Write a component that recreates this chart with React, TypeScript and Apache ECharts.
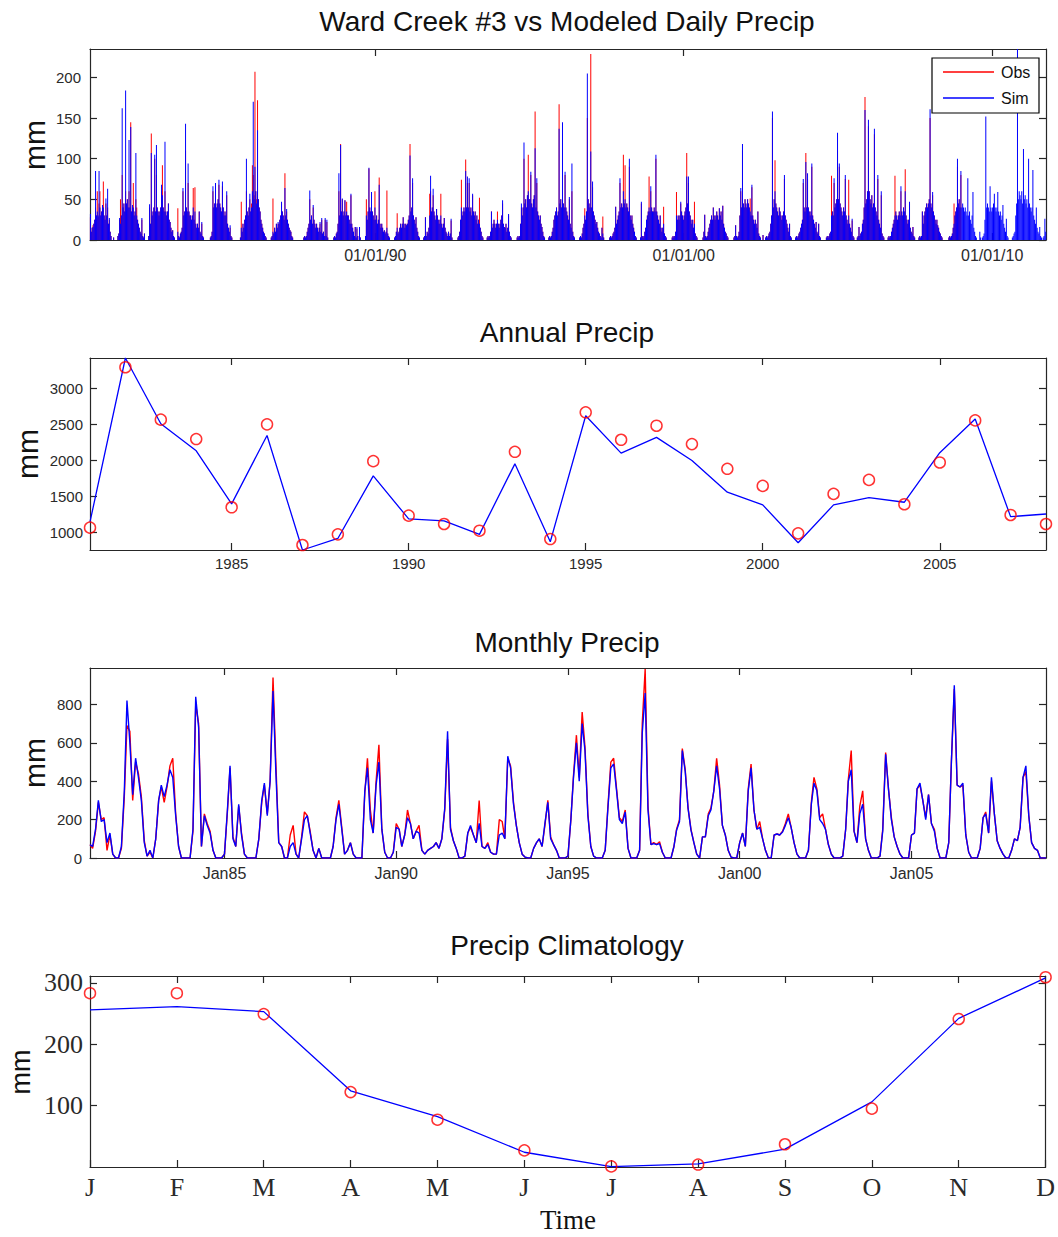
import React, { useEffect, useRef } from "react";
import * as echarts from "echarts";

const SANS = "'Liberation Sans', Arial, sans-serif";
const SERIF = "'Liberation Serif', 'Times New Roman', serif";
const AXIS_COLOR = "#262626";
const LABEL_COLOR = "#2a2a2a";
const RED = "#ff0000";
const BLUE = "#0000ff";

// ---------------- Daily precip (10-day bins, 36 per calendar year) ----------------
const dailyFirstYear = 1980;
const dailySim: number[][] = [
  [0,0,0,0,0,0,0,0,0,0,0,0,0,0,0,0,0,0,0,0,0,0,0,0,0,0,0,32,10,15,16,20,25,85,30,35],
  [30,85,40,30,35,43,40,30,25,51,30,63,20,27,10,5,0,0,3,0,0,0,0,5,8,27,20,30,162,40,45,35,184,45,50,40],
  [123,40,139,35,43,40,30,35,107,30,25,20,15,10,8,27,5,3,8,0,0,0,0,5,44,20,107,30,35,40,105,35,117,40,35,30],
  [35,40,68,55,40,35,121,35,30,35,45,25,22,15,10,12,5,3,0,0,0,10,5,3,8,10,15,64,30,35,143,40,35,94,35,30],
  [30,25,30,40,25,35,20,15,20,15,35,10,8,22,5,3,0,0,0,0,0,0,0,3,5,10,66,40,45,70,40,45,50,74,45,40],
  [35,72,40,30,35,30,60,20,15,10,18,5,3,0,0,0,0,0,0,0,0,0,3,15,10,20,15,25,30,100,35,30,40,57,35,40],
  [60,170,50,90,60,45,135,50,40,35,25,20,15,10,8,5,3,0,0,0,0,0,3,5,10,8,15,10,20,15,22,20,25,30,47,35],
  [30,25,64,30,38,25,20,15,12,10,5,3,0,0,0,0,0,0,0,0,0,0,0,0,3,5,3,5,10,15,20,61,25,30,20,43],
  [25,20,15,20,15,10,15,22,10,27,8,10,5,27,5,25,3,0,0,0,0,0,0,3,5,3,8,10,20,82,30,117,35,51,30,35],
  [49,30,35,30,30,25,20,57,20,15,10,5,16,3,16,5,0,16,3,0,0,0,0,0,5,30,25,35,89,40,35,59,35,30,25,40],
  [25,30,20,25,68,20,15,20,15,10,12,8,10,15,8,5,3,0,0,0,0,0,3,5,10,15,8,10,15,20,15,20,28,20,15,20],
  [18,20,25,30,104,35,40,76,30,25,20,28,15,10,5,3,0,0,0,0,3,5,28,5,10,8,15,30,79,35,40,63,35,30,25,38],
  [30,25,20,25,30,20,15,20,27,15,10,8,5,10,5,8,26,3,0,0,0,0,0,0,3,5,10,25,40,30,35,40,35,85,40,78],
  [40,76,35,40,30,57,35,30,35,25,30,20,25,20,15,10,5,3,0,0,0,0,3,5,3,5,10,35,15,20,25,20,15,20,25,20],
  [15,20,25,30,49,20,16,15,20,10,15,32,10,5,3,0,0,0,0,0,0,3,5,3,5,20,45,30,40,120,45,50,40,55,60,50],
  [50,84,45,40,50,55,113,40,76,35,30,25,30,20,16,10,5,3,0,0,0,0,3,5,3,5,10,15,25,30,35,40,30,35,137,45],
  [50,40,145,45,40,84,40,35,30,25,53,20,15,94,10,5,3,0,0,0,0,0,3,5,3,8,15,20,30,25,35,205,50,45,40,109],
  [40,72,35,30,25,20,22,15,10,8,5,3,15,8,3,0,0,0,0,0,0,3,5,3,5,8,10,15,41,20,25,30,35,76,40,45],
  [40,60,45,50,40,45,40,35,100,30,25,30,20,15,10,5,3,0,0,0,0,3,47,5,3,5,10,15,25,30,35,40,35,66,40,35],
  [35,40,35,105,35,30,25,20,30,15,10,15,20,8,5,3,0,0,0,0,0,0,3,5,3,5,10,30,25,30,25,30,47,35,30,25],
  [30,35,40,78,45,78,35,30,25,20,25,15,20,8,5,3,0,0,0,0,0,0,3,10,31,5,3,5,10,15,20,25,30,25,40,30],
  [25,30,35,30,25,39,30,35,25,42,20,15,10,8,5,3,0,0,0,0,0,0,3,5,18,5,3,5,10,30,64,40,118,45,40,50],
  [45,40,50,45,40,35,30,68,30,25,20,25,20,15,35,8,5,3,0,0,6,0,0,3,5,3,5,8,10,20,30,158,40,50,60,45],
  [40,35,30,40,35,30,25,30,35,80,30,25,20,15,10,20,5,3,0,0,0,0,3,5,3,5,8,10,15,20,25,75,40,35,96,40],
  [82,40,35,30,35,94,30,25,20,15,22,10,8,20,5,3,0,0,0,0,0,0,3,5,3,5,8,10,30,35,30,76,40,45,50,132],
  [50,94,45,40,35,30,40,35,80,30,25,20,30,20,15,10,26,5,3,0,0,0,3,5,16,5,8,10,20,25,40,160,45,50,60,148],
  [60,50,45,55,40,45,137,40,35,30,80,25,20,15,60,8,5,3,0,0,0,0,3,5,3,5,10,15,20,25,30,35,30,25,30,35],
  [30,66,35,30,40,35,60,30,25,20,25,47,15,10,8,16,5,3,0,0,0,0,3,5,3,5,35,20,30,35,40,45,40,45,50,161],
  [45,40,59,35,30,25,20,25,18,15,10,8,5,3,0,0,0,0,0,0,0,3,5,3,5,8,15,20,30,35,40,100,45,50,40,85],
  [40,45,40,35,40,35,30,76,30,35,25,20,30,59,15,10,5,3,0,0,0,10,3,0,3,5,8,25,152,40,45,40,35,66,40,35],
  [40,45,57,40,35,40,59,35,30,35,25,30,43,20,15,10,26,5,3,0,0,0,0,3,5,8,10,30,45,235,50,60,55,50,60,45],
  [112,50,55,45,50,40,100,45,40,35,40,86,30,25,20,40,15,10,8,16,5,3,0,3,5,26,10,0,0,0,0,0,0,0,0,0],
];
const dailyObs: number[][] = [
  [0,0,0,0,0,0,0,0,0,0,0,0,0,0,0,0,0,0,0,0,0,0,0,0,0,0,0,28,10,15,18,20,25,40,30,60],
  [28,45,60,30,35,40,72,30,25,45,30,40,20,25,10,5,0,0,3,0,0,0,0,5,8,25,50,30,80,40,45,35,60,45,50,40],
  [60,40,145,35,40,70,30,35,50,40,25,20,15,10,8,25,5,3,8,0,0,0,0,5,40,20,131,30,35,40,100,35,80,40,35,30],
  [35,40,60,92,40,35,60,35,30,35,45,25,22,15,10,12,5,3,0,0,0,39,5,3,8,10,15,60,30,35,110,40,35,70,35,30],
  [30,25,30,64,25,65,20,15,20,15,35,10,8,20,5,3,0,0,0,0,0,0,0,3,5,10,60,40,45,65,40,45,50,68,45,40],
  [35,66,40,30,35,30,55,20,15,10,15,5,3,0,0,0,0,0,0,0,0,0,3,47,10,20,15,25,30,60,35,30,40,50,35,45],
  [92,80,55,207,60,50,172,50,40,35,25,20,15,10,8,5,3,0,0,0,0,0,3,5,51,8,15,10,20,15,20,20,25,30,45,35],
  [30,25,82,30,35,25,20,15,12,10,5,3,0,0,0,0,0,0,0,0,0,0,0,0,3,5,3,5,10,15,20,50,25,30,20,40],
  [25,20,15,20,15,10,15,20,10,25,8,10,5,25,5,22,3,0,0,0,0,0,0,3,5,3,8,10,20,60,30,118,35,50,30,35],
  [49,30,47,30,30,25,20,55,20,15,10,5,16,3,14,5,0,16,3,0,0,0,0,0,5,50,25,35,88,40,35,55,35,30,25,60],
  [25,30,20,25,77,20,15,20,15,10,12,8,10,61,8,5,3,0,0,0,0,0,3,5,10,33,8,10,15,20,15,20,28,20,15,20],
  [18,20,25,30,118,35,40,70,30,25,20,28,15,10,5,3,0,0,0,0,3,5,28,5,10,8,15,57,60,35,40,55,35,30,25,38],
  [30,25,20,25,57,20,15,20,27,15,10,8,5,10,5,8,24,3,0,0,0,0,0,0,3,5,10,25,74,30,35,40,35,99,40,70],
  [40,70,35,40,30,55,35,30,35,25,30,20,25,52,15,10,5,3,0,0,0,0,3,5,3,5,10,35,15,20,25,20,15,20,35,20],
  [15,20,25,30,45,20,16,15,20,10,15,30,10,5,3,0,0,0,0,0,0,3,5,3,5,20,40,30,40,100,45,50,40,55,105,50],
  [50,80,45,40,50,55,158,40,70,35,30,25,30,20,16,10,5,3,0,0,0,0,3,5,3,5,10,15,25,30,35,40,30,35,167,45],
  [50,40,130,45,40,80,40,35,30,25,50,20,15,60,10,5,3,0,0,0,0,0,3,5,3,8,15,20,39,25,35,150,50,45,40,229],
  [40,65,35,30,25,20,22,15,10,8,5,3,15,29,3,0,0,0,0,0,0,3,5,3,5,8,10,15,41,20,25,30,35,70,40,45],
  [40,105,45,92,40,45,40,35,90,30,25,30,20,15,10,5,3,0,0,0,0,3,45,5,3,5,10,15,25,30,35,78,35,60,40,35],
  [35,40,35,100,35,30,25,20,30,15,10,15,41,8,5,3,0,0,0,0,0,0,3,5,3,5,10,59,25,30,25,30,45,35,30,25],
  [30,35,40,107,45,70,35,30,25,20,25,15,47,8,5,3,0,0,0,0,0,0,3,10,31,5,3,5,10,15,20,25,30,25,40,30],
  [25,30,35,30,25,39,30,35,25,42,20,15,10,8,5,3,0,0,0,0,0,0,3,5,18,5,3,5,10,30,60,40,110,45,40,50],
  [45,40,50,45,40,51,30,65,30,25,20,25,20,15,35,8,5,3,0,0,6,0,0,3,5,3,5,8,10,20,30,150,40,50,98,45],
  [40,35,30,40,35,30,25,30,35,75,30,25,20,15,10,20,5,3,0,0,0,0,3,5,3,5,8,10,15,20,25,70,40,35,107,40],
  [75,40,35,30,35,90,30,25,20,15,22,10,8,20,5,3,0,0,0,0,0,0,3,5,3,5,8,10,79,35,30,70,40,45,50,110],
  [50,90,45,40,35,30,40,35,75,30,25,20,74,20,15,10,24,5,3,0,0,0,3,5,16,5,8,10,20,25,40,176,45,50,60,140],
  [60,50,45,55,40,45,130,40,35,30,75,25,20,15,55,8,5,3,0,0,0,0,3,5,3,5,10,15,20,25,79,35,30,25,30,35],
  [30,60,35,30,40,35,87,30,25,20,25,45,15,10,8,16,5,3,0,0,0,0,3,5,3,5,35,20,30,35,40,45,40,45,50,150],
  [45,40,55,35,30,25,20,25,18,15,10,8,5,3,0,0,0,0,0,0,0,3,5,3,5,8,15,45,30,35,40,90,45,50,40,80],
];
const dailyStart = Date.UTC(1980, 9, 1);
const dailyEnd = Date.UTC(2011, 8, 30);
const dailyTickYears = [1990, 2000, 2010];
const dailyYTicks = [0, 50, 100, 150, 200];
const dailyYMax = 235;

// ---------------- Annual precip ----------------
const annualYears = [1981,1982,1983,1984,1985,1986,1987,1988,1989,1990,1991,1992,1993,1994,1995,1996,1997,1998,1999,2000,2001,2002,2003,2004,2005,2006,2007,2008];
const annualObs = [1070,3297,2569,2300,1353,2504,829,977,1993,1237,1121,1028,2123,912,2671,2290,2485,2230,1887,1650,991,1539,1733,1395,1975,2559,1246,1121];
const annualSim = [1150,3425,2513,2137,1400,2350,760,920,1789,1191,1163,977,1956,875,2624,2105,2323,2003,1562,1386,861,1386,1488,1423,2110,2578,1223,1260];
const annualXTicks = [1985, 1990, 1995, 2000, 2005];
const annualYTicks = [1000, 1500, 2000, 2500, 3000];
const annualYMin = 760;
const annualYMax = 3425;

// ---------------- Monthly precip ----------------
const monthlyFirstYear = 1981;
const monthlySim: (number | null)[][] = [
  [null,70,60,150,300,190,200,80,130,20,0,0],
  [60,350,820,600,330,520,420,300,80,10,40,0],
  [100,300,380,320,380,460,420,220,60,0,0,0],
  [0,150,840,680,60,220,170,130,40,0,0,0],
  [20,250,480,100,60,280,120,20,0,0,0,0],
  [100,300,390,220,400,870,450,80,60,0,0,60],
  [80,20,0,100,200,220,130,40,0,50,0,0],
  [0,0,60,200,280,150,20,40,80,20,0,0],
  [0,350,470,200,130,380,500,150,30,0,0,30],
  [160,150,60,120,210,180,100,140,130,40,20,40],
  [50,60,80,50,100,260,660,150,90,50,0,0],
  [10,130,170,120,80,180,60,50,70,30,20,20],
  [120,130,100,530,470,280,170,80,20,5,0,0],
  [50,80,100,60,180,290,100,70,40,0,0,0],
  [10,200,420,600,400,700,560,220,60,10,0,0],
  [0,40,260,470,490,350,200,180,240,50,0,0],
  [0,40,650,860,250,70,75,70,75,30,0,0],
  [0,60,145,190,560,450,260,145,80,20,0,110],
  [110,220,250,350,480,360,170,120,40,5,0,0],
  [80,130,60,350,470,250,150,160,100,40,0,0],
  [120,125,120,135,170,210,160,80,20,0,0,0],
  [40,280,390,350,200,180,150,70,20,0,0,0],
  [10,150,400,460,140,80,230,280,100,40,0,0],
  [0,10,140,540,360,200,110,60,20,0,0,0],
  [120,130,360,390,300,200,330,180,140,50,0,0],
  [0,80,500,900,380,370,390,120,30,0,0,0],
  [50,210,230,130,420,230,90,50,20,0,0,40],
  [100,90,160,420,480,220,80,50,40,0,0,0],
];
const monthlyObs: (number | null)[][] = [
  [null,70,50,140,290,200,210,40,120,20,0,0],
  [50,320,690,660,300,500,440,320,90,10,30,0],
  [100,300,370,290,370,480,520,230,60,0,0,0],
  [0,140,800,700,60,230,180,140,40,0,0,0],
  [20,240,470,110,60,270,130,20,0,0,0,0],
  [100,290,380,230,400,940,500,80,60,0,0,120],
  [170,20,0,110,240,220,140,40,0,50,0,0],
  [0,0,60,210,300,160,20,40,80,20,0,0],
  [0,340,520,250,130,400,590,150,30,0,0,30],
  [180,150,60,120,250,180,100,140,170,40,20,40],
  [50,60,80,50,100,250,620,160,90,50,0,0],
  [10,130,160,120,80,300,60,50,80,30,20,20],
  [200,190,100,520,480,290,170,80,20,5,0,0],
  [50,80,100,60,170,300,110,70,40,0,0,0],
  [10,200,430,640,420,760,580,230,60,10,0,0],
  [0,40,270,500,520,360,210,190,250,50,0,0],
  [0,40,700,985,270,70,80,70,85,30,0,0],
  [0,60,150,200,570,460,260,150,80,20,0,110],
  [110,230,260,350,520,380,170,120,40,5,0,0],
  [80,130,60,360,490,250,150,190,100,40,0,0],
  [120,125,120,140,180,230,160,80,20,0,0,0],
  [40,290,420,360,210,230,150,70,20,0,0,0],
  [10,150,410,560,140,80,270,350,100,40,0,0],
  [0,10,150,550,360,210,110,60,20,0,0,0],
  [120,130,360,380,300,210,330,180,150,50,0,0],
  [0,80,500,880,380,370,380,120,30,0,0,0],
  [50,210,240,130,400,230,90,50,20,0,0,40],
  [100,90,160,420,450,220,80,50,40,0,0,0],
];
const monthlyStart = Date.UTC(1981, 1, 1);
const monthlyEnd = Date.UTC(2008, 11, 1);
const monthlyTickYears = [1985, 1990, 1995, 2000, 2005];
const monthlyYTicks = [0, 200, 400, 600, 800];
const monthlyYMax = 990;

// ---------------- Climatology ----------------
const climMonths = ["J","F","M","A","M","J","J","A","S","O","N","D"];
const climObs = [283,283,249,122,77,27,1,4,37,95,241,309];
const climSim = [256,261,253,124,82,24,0.5,5,29,106,242,308];
const climYTicks = [100, 200, 300];
const climYMax = 311;

// ---------------- helpers ----------------
const DAY = 86400000;
const BIN = (365.25 / 36) * DAY;

function dailyData(rows: number[][]) {
  const out: [number, number][] = [];
  rows.forEach((row, i) => {
    const y = dailyFirstYear + i;
    row.forEach((v, k) => {
      const t = Date.UTC(y, 0, 1) + (k + 0.5) * BIN;
      if (t >= dailyStart && t <= dailyEnd && v > 0) out.push([t, v]);
    });
  });
  return out;
}

function monthlyData(rows: (number | null)[][]) {
  const out: [number, number][] = [];
  rows.forEach((row, i) => {
    row.forEach((v, j) => {
      if (v !== null) out.push([Date.UTC(monthlyFirstYear + i, j, 1), v]);
    });
  });
  return out;
}

const grids = [
  { left: 90, width: 956, top: 49, height: 191 },
  { left: 90, width: 956, top: 358, height: 192 },
  { left: 90, width: 956, top: 668, height: 190 },
  { left: 90, width: 956, top: 976, height: 191 },
];

function axis(o: any) {
  return {
    gridIndex: o.grid,
    type: "value",
    min: o.min,
    max: o.max,
    position: o.position,
    scale: true,
    axisLine: { show: true, onZero: false, lineStyle: { color: AXIS_COLOR, width: 1.2 } },
    axisTick: {
      show: true,
      inside: true,
      length: 7,
      customValues: o.ticks,
      lineStyle: { color: AXIS_COLOR, width: 1.2 },
    },
    axisLabel: o.label
      ? {
          show: true,
          customValues: o.ticks,
          formatter: o.fmt,
          fontSize: o.fontSize,
          fontFamily: o.font || SANS,
          color: LABEL_COLOR,
          margin: o.margin,
        }
      : { show: false },
    splitLine: { show: false },
    minorTick: { show: false },
  };
}

function yy(t: number) {
  const y = new Date(t).getUTCFullYear();
  return String(y).slice(2);
}

const dailyTicks = dailyTickYears.map((y) => Date.UTC(y, 0, 1));
const monthlyTicks = monthlyTickYears.map((y) => Date.UTC(y, 0, 1));
const climX = climMonths.map((_, i) => i + 1);

function buildOption() {
  const xAxis = [
    axis({ grid: 0, min: dailyStart, max: dailyEnd, position: "bottom", ticks: dailyTicks, label: true, fmt: (v: number) => "01/01/" + yy(v), fontSize: 16, margin: 7 }),
    axis({ grid: 0, min: dailyStart, max: dailyEnd, position: "top", ticks: dailyTicks, label: false }),
    axis({ grid: 1, min: annualYears[0], max: annualYears[annualYears.length - 1], position: "bottom", ticks: annualXTicks, label: true, fmt: (v: number) => String(v), fontSize: 15, margin: 6 }),
    axis({ grid: 1, min: annualYears[0], max: annualYears[annualYears.length - 1], position: "top", ticks: annualXTicks, label: false }),
    axis({ grid: 2, min: monthlyStart, max: monthlyEnd, position: "bottom", ticks: monthlyTicks, label: true, fmt: (v: number) => "Jan" + yy(v), fontSize: 16, margin: 7 }),
    axis({ grid: 2, min: monthlyStart, max: monthlyEnd, position: "top", ticks: monthlyTicks, label: false }),
    axis({ grid: 3, min: 1, max: 12, position: "bottom", ticks: climX, label: true, fmt: (v: number) => climMonths[Math.round(v) - 1], fontSize: 26, font: SERIF, margin: 7 }),
    axis({ grid: 3, min: 1, max: 12, position: "top", ticks: climX, label: false }),
  ];
  const yAxis = [
    axis({ grid: 0, min: 0, max: dailyYMax, position: "left", ticks: dailyYTicks, label: true, fmt: (v: number) => String(v), fontSize: 15, margin: 9 }),
    axis({ grid: 0, min: 0, max: dailyYMax, position: "right", ticks: dailyYTicks, label: false }),
    axis({ grid: 1, min: annualYMin, max: annualYMax, position: "left", ticks: annualYTicks, label: true, fmt: (v: number) => String(v), fontSize: 15, margin: 7 }),
    axis({ grid: 1, min: annualYMin, max: annualYMax, position: "right", ticks: annualYTicks, label: false }),
    axis({ grid: 2, min: 0, max: monthlyYMax, position: "left", ticks: monthlyYTicks, label: true, fmt: (v: number) => String(v), fontSize: 15, margin: 8 }),
    axis({ grid: 2, min: 0, max: monthlyYMax, position: "right", ticks: monthlyYTicks, label: false }),
    axis({ grid: 3, min: 0, max: climYMax, position: "left", ticks: climYTicks, label: true, fmt: (v: number) => String(v), fontSize: 26, font: SERIF, margin: 7 }),
    axis({ grid: 3, min: 0, max: climYMax, position: "right", ticks: climYTicks, label: false }),
  ];

  const circle = (size: number) => ({
    type: "scatter",
    symbol: "circle",
    symbolSize: size,
    itemStyle: { color: "rgba(0,0,0,0)", borderColor: RED, borderWidth: 1.5 },
    silent: true,
    z: 3,
  });

  const series: any[] = [
    { type: "bar", xAxisIndex: 0, yAxisIndex: 0, data: dailyData(dailyObs), barWidth: 1, barGap: "-100%", itemStyle: { color: RED }, silent: true, z: 2 },
    { type: "bar", xAxisIndex: 0, yAxisIndex: 0, data: dailyData(dailySim), barWidth: 1, barGap: "-100%", itemStyle: { color: BLUE }, silent: true, z: 3 },
    { type: "line", xAxisIndex: 2, yAxisIndex: 2, data: annualYears.map((y, i) => [y, annualSim[i]]), showSymbol: false, symbol: "none", lineStyle: { color: BLUE, width: 1.3 }, silent: true, z: 2 },
    { ...circle(11), xAxisIndex: 2, yAxisIndex: 2, data: annualYears.map((y, i) => [y, annualObs[i]]) },
    { type: "line", xAxisIndex: 4, yAxisIndex: 4, data: monthlyData(monthlyObs), showSymbol: false, symbol: "none", lineStyle: { color: RED, width: 1.4 }, silent: true, z: 2 },
    { type: "line", xAxisIndex: 4, yAxisIndex: 4, data: monthlyData(monthlySim), showSymbol: false, symbol: "none", lineStyle: { color: BLUE, width: 1.4 }, silent: true, z: 3 },
    { type: "line", xAxisIndex: 6, yAxisIndex: 6, data: climX.map((m, i) => [m, climSim[i]]), showSymbol: false, symbol: "none", lineStyle: { color: BLUE, width: 1.3 }, silent: true, z: 2 },
    { ...circle(11), xAxisIndex: 6, yAxisIndex: 6, data: climX.map((m, i) => [m, climObs[i]]) },
  ];

  const txt = (text: string, x: number, y: number, size: number, font: string, extra: any = {}) => ({
    type: "text",
    x,
    y,
    z: 50,
    silent: true,
    ...extra,
    style: {
      text,
      fontSize: size,
      fontFamily: font,
      fill: "#111",
      align: "center",
      verticalAlign: "middle",
      textAlign: "center",
      textVerticalAlign: "middle",
    },
  });

  const titleX = 567;
  const graphic = [
    txt("Ward Creek #3 vs Modeled Daily Precip", titleX, 21, 28, SANS),
    txt("Annual Precip", titleX, 332, 28, SANS),
    txt("Monthly Precip", titleX, 642, 28, SANS),
    txt("Precip Climatology", titleX, 945, 28, SANS),
    txt("mm", 34, 145, 30, SANS, { rotation: Math.PI / 2 }),
    txt("mm", 27, 454, 30, SANS, { rotation: Math.PI / 2 }),
    txt("mm", 34, 763, 30, SANS, { rotation: Math.PI / 2 }),
    txt("mm", 21, 1072, 27, SANS, { rotation: Math.PI / 2 }),
    txt("Time", 568, 1220, 27, SERIF),
    {
      type: "rect",
      z: 60,
      silent: true,
      shape: { x: 932, y: 58, width: 107, height: 55 },
      style: { fill: "#ffffff", stroke: "#000000", lineWidth: 1.2 },
    },
    { type: "line", z: 61, silent: true, shape: { x1: 943, y1: 72, x2: 994, y2: 72 }, style: { stroke: RED, lineWidth: 1.3 } },
    { type: "line", z: 61, silent: true, shape: { x1: 943, y1: 98, x2: 994, y2: 98 }, style: { stroke: BLUE, lineWidth: 1.3 } },
    {
      type: "text", z: 61, silent: true, x: 1001, y: 72,
      style: { text: "Obs", fontSize: 16, fontFamily: SANS, fill: "#111", align: "left", verticalAlign: "middle", textAlign: "left", textVerticalAlign: "middle" },
    },
    {
      type: "text", z: 61, silent: true, x: 1001, y: 98,
      style: { text: "Sim", fontSize: 16, fontFamily: SANS, fill: "#111", align: "left", verticalAlign: "middle", textAlign: "left", textVerticalAlign: "middle" },
    },
  ];

  return {
    animation: false,
    backgroundColor: "#ffffff",
    grid: grids.map((g) => ({ ...g, containLabel: false })),
    xAxis,
    yAxis,
    series,
    graphic: { elements: graphic },
  };
}

export default function App() {
  const ref = useRef<HTMLDivElement>(null);
  useEffect(() => {
    if (!ref.current) return;
    const chart = echarts.init(ref.current, undefined, { renderer: "svg" });
    chart.setOption(buildOption() as any);
    return () => chart.dispose();
  }, []);
  return (
    <div
      ref={ref}
      style={{ position: "absolute", left: 0, top: 0, width: 1058, height: 1237, background: "#fff" }}
    />
  );
}
